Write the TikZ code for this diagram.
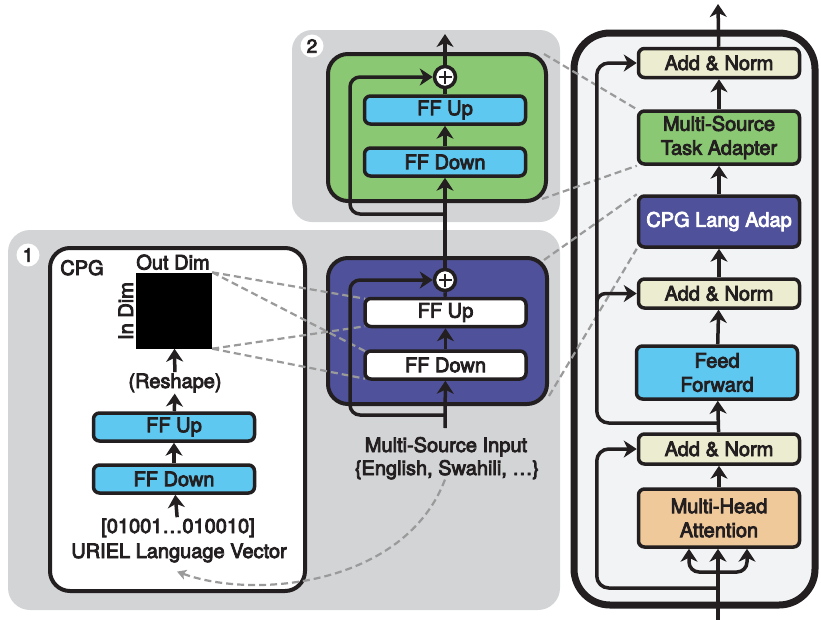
\documentclass[tikz,border=0pt]{standalone}
\usepackage{fontspec}
\setmainfont{TeX Gyre Heros}[FakeBold=4]
\usetikzlibrary{arrows.meta,calc}
\definecolor{panelgray}{HTML}{D3D4D6}
\definecolor{rightbg}{HTML}{F2F3F5}
\definecolor{ffcyan}{HTML}{5EC8F1}
\definecolor{adgreen}{HTML}{8AC873}
\definecolor{cpgblue}{HTML}{4F529B}
\definecolor{normbeige}{HTML}{ECEDD0}
\definecolor{mhapeach}{HTML}{F0C99B}
\definecolor{dashgray}{HTML}{9A9A9A}
\definecolor{ink}{HTML}{231F20}
\pgfdeclarelayer{back}
\pgfdeclarelayer{mid}
\pgfdeclarelayer{outerl}
\pgfdeclarelayer{dmid}
\pgfsetlayers{back,mid,outerl,dmid,main}
\begin{document}
\begin{tikzpicture}[x=1pt,y=-1pt,
  font=\fontsize{20}{24}\selectfont,
  every node/.style={text=ink},
  txt/.style={inner sep=1pt, anchor=base},
  box/.style={draw=ink, line width=3.5pt, rounded corners=6pt, inner sep=0pt, align=center},
  ffbox/.style={box, fill=ffcyan, minimum width=161pt, minimum height=28pt},
  wbox/.style={box, fill=white, minimum width=161pt, minimum height=28pt},
  rbox/.style={box, minimum width=161pt},
  outer/.style={draw=ink, line width=4pt, rounded corners=20pt, inner sep=0pt},
  arr/.style={draw=ink, line width=3.5pt, -{Stealth[length=13pt,width=17pt,inset=4pt]}},
  ln/.style={draw=ink, line width=3.5pt},
  dsh/.style={draw=dashgray, line width=2.2pt, dash pattern=on 7pt off 4pt},
  plusc/.style={circle, draw=ink, fill=white, line width=3.5pt, minimum size=21pt, inner sep=0pt,
    path picture={\draw[ink, line width=2.8pt] ([xshift=-6.5pt]path picture bounding box.center) -- ([xshift=6.5pt]path picture bounding box.center);
                  \draw[ink, line width=2.8pt] ([yshift=-6.5pt]path picture bounding box.center) -- ([yshift=6.5pt]path picture bounding box.center);}},
  badge/.style={circle, fill=white, minimum size=23pt, inner sep=0pt, font=\fontsize{19}{20}\selectfont}]
\useasboundingbox (0,0) rectangle (821,619);

% ---------- background panels ----------
\begin{pgfonlayer}{back}
  \fill[panelgray, rounded corners=22pt] (8,230) rectangle (560,610);
  \fill[panelgray, rounded corners=20pt] (292,30) rectangle (560,222);
  \draw[fill=rightbg, draw=ink, line width=7pt, rounded corners=36pt] (574,33) rectangle (815,605);
  \draw[fill=white, draw=ink, line width=4pt, rounded corners=20pt] (50,248) rectangle (305,591);
\end{pgfonlayer}

\node[badge] (b1) at (28,255) {1};
\node[badge] (b2) at (312,46) {2};

% ---------- CPG ----------
\node[txt] (cpglbl) at (82,275) {CPG};
\node[fill=black, minimum size=76pt, inner sep=0pt] (sq) at (174,310.5) {};
\node[txt] (outdim) at (173,269.5) {Out Dim};
\node[txt, rotate=90] (indim) at (133,311) {In Dim};
\node[txt] (reshape) at (175,388) {(Reshape)};
\node[ffbox] (cup) at (174,427) {FF Up};
\node[ffbox] (cdown) at (174,479) {FF Down};
\node[txt] (vec) at (178,533) {[01001…010010]};
\node[txt] (uriel) at (179,558) {URIEL Language Vector};
\draw[arr] (vec) -- (cdown);
\draw[arr] (cdown) -- (cup);
\draw[arr] (cup) -- (reshape);
\draw[arr] (reshape) -- (sq);

% ---------- CPG adapter (blue) ----------
\begin{pgfonlayer}{outerl}
\node[outer, fill=cpgblue, minimum width=219pt, minimum height=146pt] (bbox) at (437.5,331) {};
\node[outer, fill=adgreen, minimum width=218pt, minimum height=147pt] (gbox) at (437,127.5) {};
\end{pgfonlayer}
\node[wbox] (bup) at (445.5,312.5) {FF Up};
\node[wbox] (bdown) at (445.5,365) {FF Down};
\node[plusc] (bplus) at (445,280) {};
\node[txt] (msin) at (446,452) {Multi-Source Input};
\node[txt] (langs) at (447,475) {\{English, Swahili, …\}};
\coordinate (bin) at (445,428);
\coordinate (bres) at (445,415);
\draw[arr] (bin) -- (bdown);
\draw[arr] (bdown) -- (bup);
\draw[ln] (bup) -- (bplus);
\draw[arr, rounded corners=10pt] (bres) -| ($(bplus)+(-95,0)$) -- (bplus);

% ---------- task adapter (green) ----------
\node[ffbox] (gup) at (445,110) {FF Up};
\node[ffbox] (gdown) at (445,162) {FF Down};
\node[plusc] (gplus) at (445,77) {};
\coordinate (gres) at (445,214);
\coordinate (gout) at (445,34);
\draw[arr] (bplus) -- (gdown);
\draw[arr] (gdown) -- (gup);
\draw[ln] (gup) -- (gplus);
\draw[arr, rounded corners=10pt] (gres) -| ($(gplus)+(-95,0)$) -- (gplus);
\draw[arr] (gplus) -- (gout);

% ---------- transformer layer ----------
\node[rbox, fill=normbeige, minimum height=29pt] (an3) at (719,63) {Add \& Norm};
\node[rbox, fill=adgreen, minimum height=53pt] (msta) at (719,137.5) {Multi-Source\\Task Adapter};
\node[rbox, fill=cpgblue, minimum height=51pt, text=white] (cpgla) at (719,221.5) {CPG Lang Adap};
\node[rbox, fill=normbeige, minimum height=29pt] (an2) at (719,293.5) {Add \& Norm};
\node[rbox, fill=ffcyan, minimum height=53pt] (ffr) at (717,372.5) {Feed\\Forward};
\node[rbox, fill=normbeige, minimum height=30pt] (an1) at (719,449) {Add \& Norm};
\node[rbox, fill=mhapeach, minimum height=58pt] (mha) at (719,518) {Multi-Head\\Attention};

\coordinate (outtop) at (718,4);
\coordinate (inbot) at (718,622);
\coordinate (fork) at (718,572);
\coordinate (r1) at (718,588);
\coordinate (r2) at (718,423);

\draw[arr] (inbot) -- (718,518 |- mha.south);
\draw[arr, rounded corners=10pt] (fork) -| ($(mha.south)+(-30,0)$);
\draw[arr, rounded corners=10pt] (fork) -| ($(mha.south)+(28,0)$);
\draw[arr] (mha) -- (an1);
\draw[arr] (an1) -- (ffr);
\draw[arr] (ffr) -- (an2);
\draw[arr] (an2) -- (cpgla);
\draw[arr] (cpgla) -- (msta);
\draw[arr] (msta) -- (an3);
\draw[arr] (an3) -- (outtop);
\draw[arr, rounded corners=12pt] (r1) -| ($(an1.west)+(-40,0)$) -- (an1.west);
\draw[arr, rounded corners=12pt] (r2) -| ($(an3.west)+(-40,0)$) -- (an3.west);
\draw[arr, rounded corners=9pt] ($(an2.west)+(-40,18)$) |- (an2.west);

% ---------- dashed links ----------
\begin{pgfonlayer}{dmid}
  \draw[dsh] (sq.north east) -- ($(bup.north west)+(2,2)$);
  \draw[dsh] (sq.north east) -- ($(bdown.north west)+(2,2)$);
  \draw[dsh] (sq.south east) -- ($(bup.south west)+(2,-2)$);
  \draw[dsh] (sq.south east) -- ($(bdown.south west)+(2,-2)$);
\end{pgfonlayer}
\begin{pgfonlayer}{mid}
  \draw[dsh] ($(gbox.north east)+(-4,2)$) -- (msta.north west);
  \draw[dsh] ($(gbox.south east)+(-6,-4)$) -- (msta.south west);
  \draw[dsh] ($(bbox.north east)+(-5,4)$) -- (cpgla.north west);
  \draw[dsh] ($(bbox.south east)+(0,-10)$) -- (cpgla.south west);
  \draw[dsh, -{Stealth[length=9pt,width=10pt,inset=2pt]}] ($(langs.south)+(-2,-1)$) .. controls (405,585) and (255,600) .. ($(uriel.south)+(-2,8)$);
\end{pgfonlayer}
\end{tikzpicture}
\end{document}
